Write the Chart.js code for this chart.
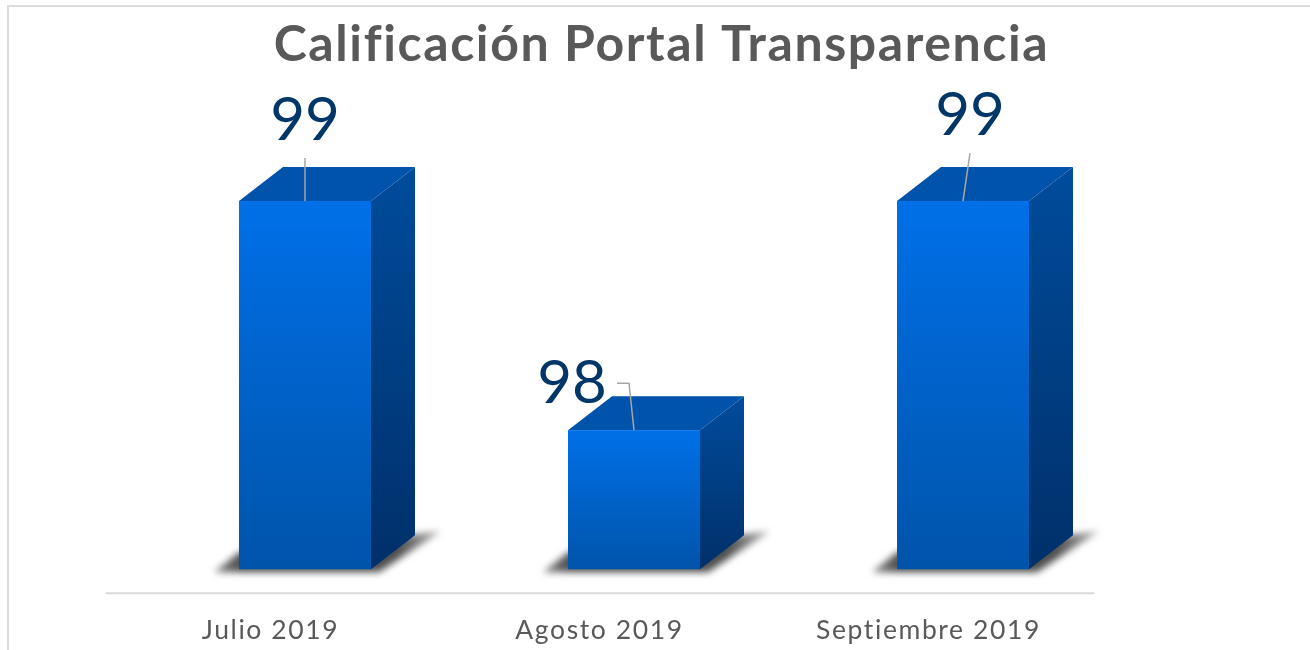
<!DOCTYPE html>
<html><head><meta charset="utf-8">
<style>html,body{margin:0;padding:0;background:#fff;overflow:hidden}
#wrap{position:absolute;left:0;top:0;width:1310px;height:650px}
#frame{position:absolute;left:7px;top:5px;width:1310px;height:660px;border:2px solid #DDDDDD;box-sizing:border-box}
canvas{position:absolute;left:0;top:0}</style>
<script src="https://cdn.jsdelivr.net/npm/chart.js@4"></script>
</head><body><div id="wrap"><div id="frame"></div><canvas id="c" width="1310" height="650"></canvas></div>
<script>
const categories = ['Julio 2019','Agosto 2019','Septiembre 2019'];
const values = [99,98,99];
const chartTitle = 'Calificación Portal Transparencia';
const axisMin = 97.393, axisMax = 99.633;
const labelOffsets = [[0,-80],[-62,-46],[7,-85]];
const leaders = [
  [[0,0],[0,-43]],
  [[0,0],[-5,-47],[-17,-47]],
  [[0,0],[7,-48]]
];
const DX=34.5, DY=-24, SX=44, SY=-34;
const threeD = {
  id:'threeD',
  afterLayout(chart){ chart.titleBlock.right += 124; },
  beforeDraw(chart){ chart.ctx.letterSpacing='1.6px'; },
  afterDatasetsDraw(chart){
    const ctx=chart.ctx, meta=chart.getDatasetMeta(0);
    ctx.save(); ctx.letterSpacing='0px';
    const xs=chart.scales.x;
    ctx.strokeStyle='#D9D9D9'; ctx.lineWidth=2;
    ctx.beginPath(); ctx.moveTo(xs.left,chart.chartArea.bottom); ctx.lineTo(xs.right+1,chart.chartArea.bottom); ctx.stroke();
    meta.data.forEach((el,i)=>{
      const p=el.getProps(['x','y','base','width'],true);
      const l=Math.round(p.x-p.width/2+DX), r=Math.round(p.x+p.width/2+DX), t=p.y+DY, b=p.base+DY;
      // floor shadow
      ctx.save(); ctx.filter='blur(3.5px)';
      const sg=ctx.createLinearGradient(l-26,0,r+SX+28,0);
      sg.addColorStop(0,'#8a8a8a'); sg.addColorStop(0.12,'#4f4f4f'); sg.addColorStop(0.8,'#4f4f4f'); sg.addColorStop(1,'#b8b8b8');
      ctx.fillStyle=sg;
      ctx.beginPath();
      ctx.moveTo(l-25,b+3); ctx.lineTo(l,b-17); ctx.lineTo(r+SX,b+SY-1); ctx.lineTo(r+SX+26,b+SY-4); ctx.lineTo(r+8,b+3);
      ctx.closePath(); ctx.fill(); ctx.restore();
      // side face
      let g=ctx.createLinearGradient(0,t+SY,0,b);
      g.addColorStop(0,'#004C9C'); g.addColorStop(1,'#00306A');
      ctx.fillStyle=g;
      ctx.beginPath(); ctx.moveTo(r,t); ctx.lineTo(r+SX,t+SY); ctx.lineTo(r+SX,b+SY); ctx.lineTo(r,b); ctx.closePath(); ctx.fill();
      // top face
      ctx.fillStyle='#0053AB';
      ctx.beginPath(); ctx.moveTo(l,t); ctx.lineTo(l+SX,t+SY); ctx.lineTo(r+SX,t+SY); ctx.lineTo(r,t); ctx.closePath(); ctx.fill();
      // front face
      g=ctx.createLinearGradient(0,t,0,b);
      g.addColorStop(0,'#0070E8'); g.addColorStop(1,'#0054AA');
      ctx.fillStyle=g; ctx.fillRect(l,t,r-l,b-t);
      // leader
      const cx=(l+r)/2;
      ctx.strokeStyle='#A6A6A6'; ctx.lineWidth=1.5;
      ctx.beginPath();
      leaders[i].forEach((q,k)=>{ k?ctx.lineTo(cx+q[0],t+q[1]):ctx.moveTo(cx+q[0],t+q[1]); });
      ctx.stroke();
      // value label
      ctx.fillStyle='#003768'; ctx.font='60px Lato'; ctx.textAlign='center'; ctx.textBaseline='middle';
      ctx.fillText(String(values[i]),cx+labelOffsets[i][0],t+labelOffsets[i][1]);
    });
    ctx.restore();
  }
};
new Chart(document.getElementById('c'),{
  type:'bar',
  data:{labels:categories,datasets:[{data:values,base:axisMin,backgroundColor:'rgba(0,0,0,0)',barPercentage:1,categoryPercentage:0.4012}]},
  plugins:[threeD],
  options:{
    responsive:false,animation:false,
    layout:{padding:{left:106,right:217,top:0,bottom:-9}},
    plugins:{
      legend:{display:false},tooltip:{enabled:false},
      title:{display:true,text:chartTitle,color:'#595959',font:{family:'Lato',weight:'bold',size:50,lineHeight:1.2},padding:{top:15,bottom:5}}
    },
    scales:{
      x:{grid:{display:false},border:{display:false},ticks:{color:'#595959',font:{family:'Lato',size:26.5},padding:13,maxRotation:0}},
      y:{display:false,min:axisMin,max:axisMax,grid:{display:false}}
    }
  }
});
</script></body></html>
